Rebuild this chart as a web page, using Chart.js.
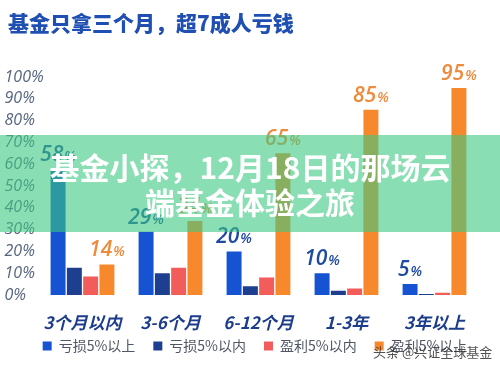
<!DOCTYPE html>
<html>
<head>
<meta charset="utf-8">
<script src="https://cdn.jsdelivr.net/npm/chart.js@4/dist/chart.umd.min.js"></script>
<style>
  html, body { margin: 0; padding: 0; background: #ffffff; }
  #wrap { position: relative; width: 500px; height: 369px; overflow: hidden; background: #fff; }
  #c { position: absolute; left: 0; top: 0; }
  #title { position: absolute; left: 8px; top: 8px; font-family: "Noto Sans CJK SC", sans-serif; font-weight: 900; font-size: 21px; line-height: 28px; color: #1f4fb3; white-space: nowrap; }
  #band { position: absolute; left: 0; top: 135px; width: 500px; height: 97px; background: rgba(60, 200, 130, 0.6); }
  #bandText { position: absolute; left: 0; top: 149px; width: 500px; text-align: center; font-family: "Noto Sans CJK SC", sans-serif; font-weight: 700; font-size: 30px; line-height: 35px; color: #ffffff; white-space: nowrap; }
  #mark { position: absolute; left: 373px; top: 342px; font-family: "Noto Sans CJK SC", sans-serif; font-size: 13px; line-height: 20px; color: rgba(50, 50, 50, 0.85); white-space: nowrap; }
</style>
</head>
<body>
<div id="wrap">
  <canvas id="c" width="500" height="369"></canvas>
  <div id="title">基金只拿三个月，超7成人亏钱</div>
  <div id="band"></div>
  <div id="bandText">基金小探，12月18日的那场云<br>端基金体验之旅</div>
  <div id="mark">头条 @兴证全球基金</div>
</div>
<script>
// ---- data ----
const categories = ['3个月以内', '3-6个月', '6-12个月', '1-3年', '3年以上'];
const seriesNames = ['亏损5%以上', '亏损5%以内', '盈利5%以内', '盈利5%以上'];
const lossOver5 = [58, 29, 20, 10, 5];
const lossUnder5 = [12.5, 10, 4, 2, 0.5];
const gainUnder5 = [8.5, 12.5, 8, 3, 1];
const gainOver5 = [14, 34, 65, 85, 95];
const yTickValues = [0, 10, 20, 30, 40, 50, 60, 70, 80, 90, 100];

const seriesColors = ['#1653d3', '#1e3f8f', '#f25d5b', '#f7892c'];
const labelColors = ['#1f4aa3', null, null, '#ef8b3d'];

const valueLabels = {
  id: 'valueLabels',
  afterDatasetsDraw(chart) {
    const ctx = chart.ctx;
    chart.data.datasets.forEach((ds, di) => {
      if (!labelColors[di]) return;
      const meta = chart.getDatasetMeta(di);
      meta.data.forEach((bar, i) => {
        const num = String(ds.data[i]);
        ctx.save();
        ctx.fillStyle = labelColors[di];
        ctx.textBaseline = 'alphabetic';
        ctx.font = 'italic 600 21px "Open Sans", sans-serif';
        const w1 = ctx.measureText(num).width;
        ctx.font = 'italic 600 14px "Open Sans", sans-serif';
        const w2 = ctx.measureText('%').width;
        const x0 = bar.x - (w1 + w2 + 1) / 2;
        const yb = bar.y - 8;
        ctx.font = 'italic 600 21px "Open Sans", sans-serif';
        ctx.textAlign = 'left';
        ctx.fillText(num, x0, yb);
        ctx.font = 'italic 600 14px "Open Sans", sans-serif';
        ctx.fillText('%', x0 + w1 + 1, yb);
        ctx.restore();
      });
    });
  }
};

// place the legend row just under the category labels
const legendPlace = {
  id: 'legendPlace',
  afterLayout(chart) {
    const lg = chart.legend;
    if (!lg) return;
    lg.top = 321;
    lg.bottom = 321 + 44;
    lg.left = 19;
    lg.right = 491;
    lg.width = lg.right - lg.left;
  }
};

const seriesData = [lossOver5, lossUnder5, gainUnder5, gainOver5];

new Chart(document.getElementById('c'), {
  type: 'bar',
  data: {
    labels: categories,
    datasets: seriesData.map((d, i) => ({
      label: seriesNames[i],
      data: d,
      backgroundColor: seriesColors[i],
      borderWidth: 0,
      categoryPercentage: 0.74,
      barPercentage: 0.92
    }))
  },
  options: {
    responsive: false,
    animation: false,
    devicePixelRatio: 1,
    layout: { padding: { top: 77, left: 6, right: 21.5, bottom: -17 } },
    plugins: {
      title: { display: false },
      tooltip: { enabled: false },
      legend: {
        position: 'bottom',
        maxHeight: 36.6,
        labels: {
          boxWidth: 9,
          boxHeight: 9,
          padding: 18,
          color: '#505664',
          font: { family: '"Noto Sans CJK SC", sans-serif', size: 14 }
        }
      }
    },
    scales: {
      x: {
        grid: { display: false, drawTicks: false },
        border: { display: false },
        ticks: {
          padding: 17,
          color: '#1c3c8c',
          font: { family: '"Noto Sans CJK SC", sans-serif', size: 17, weight: 'bold', style: 'italic' }
        }
      },
      y: {
        min: 0,
        max: 100,
        grid: { display: false, drawTicks: false },
        border: { display: false },
        afterBuildTicks(scale) { scale.ticks = yTickValues.map(v => ({ value: v })); },
        ticks: {
          mirror: true,
          autoSkip: false,
          padding: -34,
          color: '#56657f',
          font: { family: '"Open Sans", sans-serif', size: 16, style: 'italic' },
          callback: v => v + '%'
        },
        afterFit(scale) { scale.width = 32.5; }
      }
    }
  },
  plugins: [valueLabels, legendPlace]
});
</script>
</body>
</html>
